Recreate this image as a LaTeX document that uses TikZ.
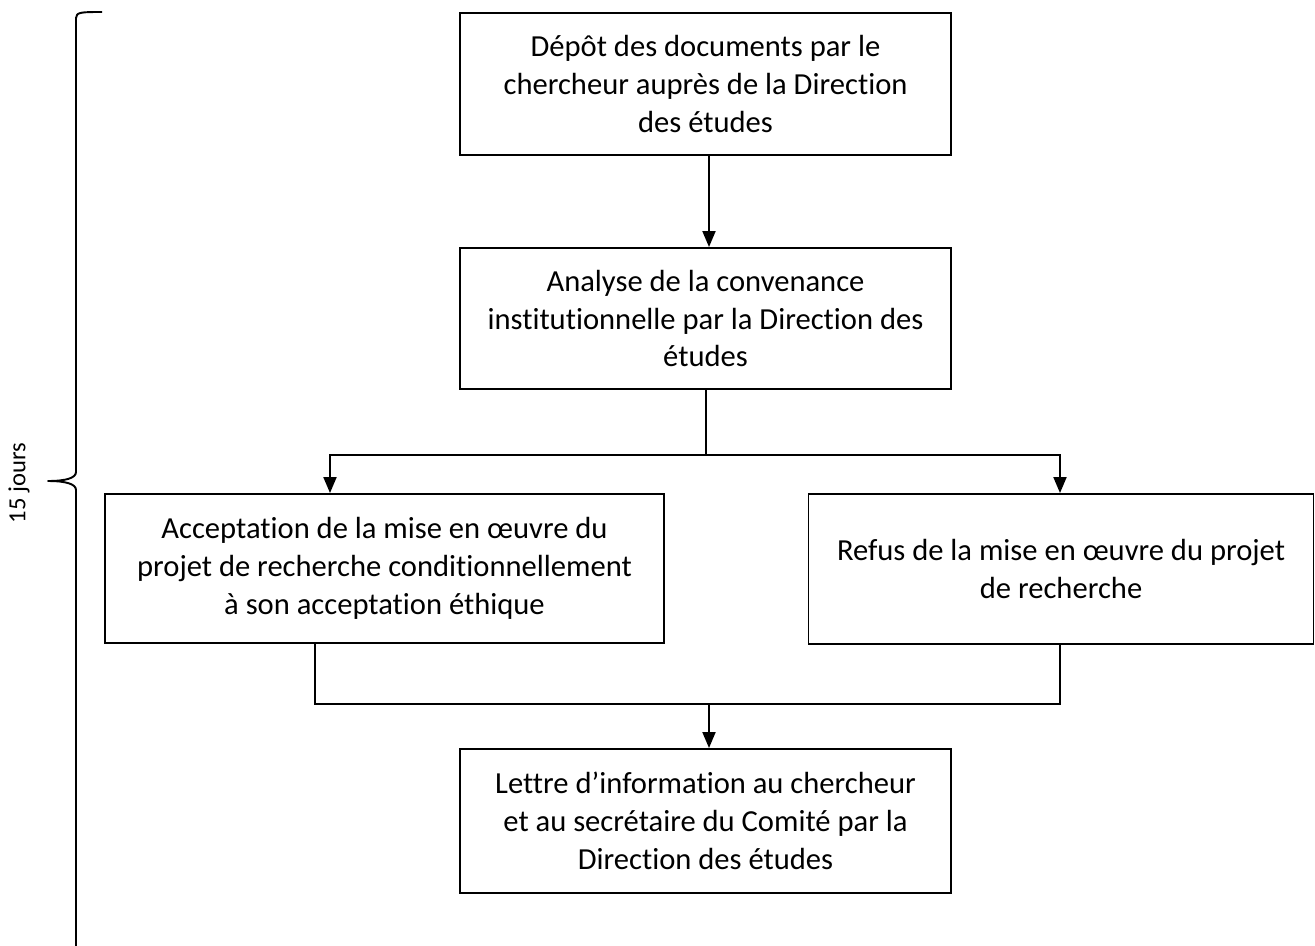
\documentclass[tikz,border=0pt]{standalone}
\usepackage{fontspec}
\setmainfont{Carlito}[Ligatures=NoCommon]
\usetikzlibrary{positioning,arrows.meta}

\begin{document}
\begin{tikzpicture}[
    x=0.2mm, y=-0.2mm,
    etape/.style={rectangle, draw, line width=1.1pt, align=center,
        font=\fontsize{17.4}{21.5}\selectfont, inner sep=0pt},
    fleche/.style={draw, line width=1.1pt, -{Triangle[length=3.2mm,width=2.6mm]}},
    trait/.style={draw, line width=1.1pt}
]
\useasboundingbox (0,0) rectangle (1315,945);

\node (Depot) [etape, minimum width=98.2mm, minimum height=28.4mm] at (705.5,84)
  {Dépôt des documents par le\\chercheur auprès de la Direction\\des études};
\node (Analyse) [etape, minimum width=98.2mm, minimum height=28.2mm] at (705.5,318.5)
  {Analyse de la convenance\\institutionnelle par la Direction des\\études};
\node (Acceptation) [etape, minimum width=111.8mm, minimum height=29.8mm] at (384.5,568.5)
  {Acceptation de la mise en œuvre du\\projet de recherche conditionnellement\\à son acceptation éthique};
\node (Refus) [etape, minimum width=101mm, minimum height=30mm] at (1061,569)
  {Refus de la mise en œuvre du projet\\de recherche};
\node (Lettre) [etape, minimum width=98.2mm, minimum height=28.8mm] at (705.5,821)
  {Lettre d’information au chercheur\\et au secrétaire du Comité par la\\Direction des études};

% branches
\coordinate (Descente) at (709,200);
\coordinate (Split) at (706,455);
\coordinate (SplitG) at (330,455);
\coordinate (SplitD) at (1060,455);
\coordinate (Merge) at (709,704);
\coordinate (MergeG) at (315,704);

\draw [fleche] (Descente |- Depot.south) -- (Descente |- Analyse.north);
\draw [trait] (Split |- Analyse.south) -- (Split);
\draw [fleche] (SplitD) -- (SplitG) -- (SplitG |- Acceptation.north);
\draw [fleche] (Split) -- (SplitD) -- (SplitD |- Refus.north);
\draw [trait] (MergeG |- Acceptation.south) -- (MergeG) -- (SplitD |- Merge) -- (SplitD |- Refus.south);
\draw [fleche] (Merge) -- (Merge |- Lettre.north);

% accolade
\draw [line width=1.1pt, line join=round]
  (102,12) .. controls (82,12) and (76,12) .. (76,18) -- (76,472)
  .. controls (76,478) and (66,481) .. (48,481)
  .. controls (66,481) and (76,484) .. (76,490) -- (76,960);
\node (Duree) [rotate=90, font=\fontsize{14}{16}\selectfont] at (19,483) {15 jours};
\end{tikzpicture}
\end{document}
